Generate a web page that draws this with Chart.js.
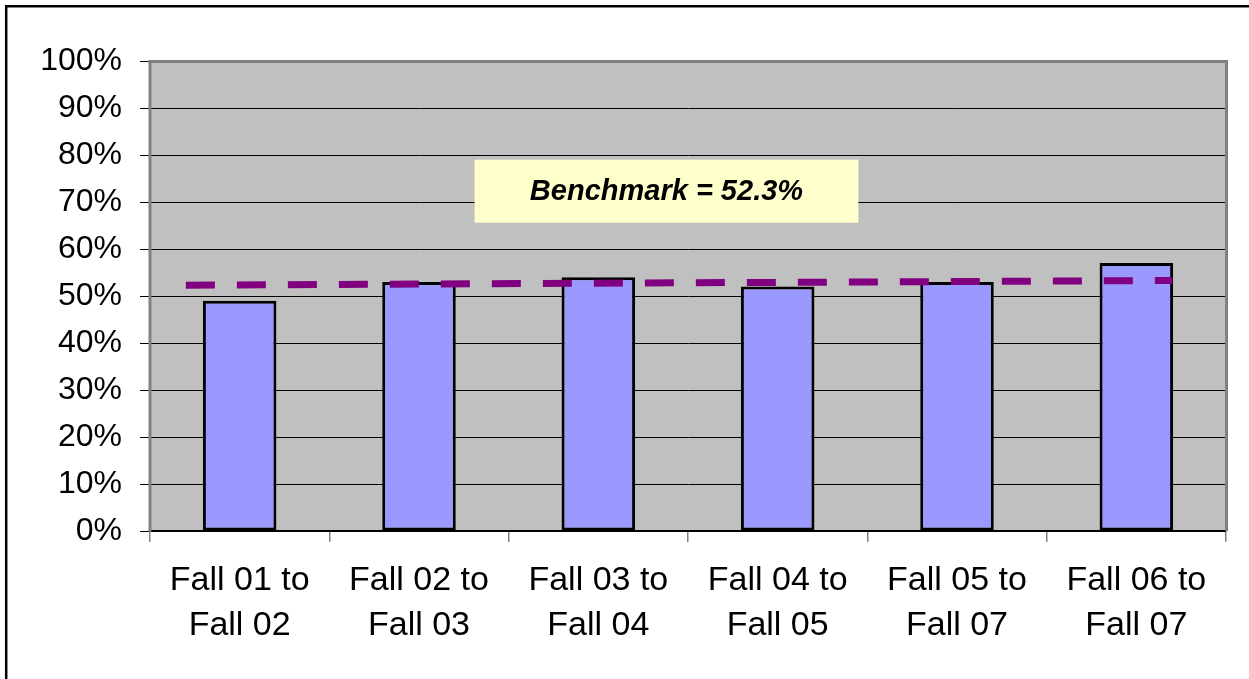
<!DOCTYPE html>
<html>
<head>
<meta charset="utf-8">
<style>
  html, body { margin: 0; padding: 0; background: #fff; }
  #wrap { position: relative; width: 1249px; height: 679px; }
</style>
<script src="https://cdn.jsdelivr.net/npm/chart.js@4.4.1/dist/chart.umd.min.js"></script>
</head>
<body>
<div id="wrap"><canvas id="c" width="1249" height="679"></canvas></div>
<script>
// ---- data ----
const categories = [
  ["Fall 01 to", "Fall 02"],
  ["Fall 02 to", "Fall 03"],
  ["Fall 03 to", "Fall 04"],
  ["Fall 04 to", "Fall 05"],
  ["Fall 05 to", "Fall 07"],
  ["Fall 06 to", "Fall 07"]
];
const retentionRates = [49, 53, 54, 52, 53, 57];
const benchmarkX = [0.2, 5.7];        // position along categories (0..6)
const benchmarkY = [52.3, 53.3];
const benchmarkLabel = "Benchmark = 52.3%";
const yTicks = [0, 10, 20, 30, 40, 50, 60, 70, 80, 90, 100];

const FONT = "'Liberation Sans', Arial, sans-serif";

const framePlugin = {
  id: 'framePlugin',
  beforeDraw(chart) {
    const { ctx, chartArea: a } = chart;
    ctx.save();
    ctx.fillStyle = '#C0C0C0';
    ctx.fillRect(a.left, a.top, a.right - a.left, a.bottom - a.top);
    // outer frame
    ctx.strokeStyle = '#000';
    ctx.lineWidth = 2.5;
    ctx.beginPath();
    ctx.moveTo(6.2, 700);
    ctx.lineTo(6.2, 6.2);
    ctx.lineTo(1300, 6.2);
    ctx.stroke();
    ctx.restore();
  },
  afterDatasetsDraw(chart) {
    const { ctx, chartArea: a } = chart;
    ctx.save();
    ctx.strokeStyle = '#808080';
    ctx.lineWidth = 3;
    ctx.beginPath();
    ctx.moveTo(a.left, a.bottom);
    ctx.lineTo(a.left, a.top + 0.5);
    ctx.lineTo(a.right + 0.5, a.top + 0.5);
    ctx.lineTo(a.right + 0.5, a.bottom);
    ctx.stroke();
    ctx.restore();
  },
  beforeDatasetsDraw(chart) {
    const { ctx, scales } = chart;
    const x2 = scales.x2, y = scales.y;
    ctx.save();
    const bx0 = x2.getPixelForValue(1.81), bx1 = x2.getPixelForValue(3.95);
    const by0 = y.getPixelForValue(79), by1 = y.getPixelForValue(65.6);
    ctx.fillStyle = '#FFFFCC';
    ctx.fillRect(bx0, by0, bx1 - bx0, by1 - by0);
    ctx.fillStyle = '#000';
    ctx.font = "italic bold 29px " + FONT;
    ctx.textAlign = 'center';
    ctx.textBaseline = 'middle';
    ctx.fillText(benchmarkLabel, (bx0 + bx1) / 2, (by0 + by1) / 2 + 1);
    ctx.restore();
  }
};

new Chart(document.getElementById('c'), {
  data: {
    labels: categories,
    datasets: [
      {
        type: 'bar',
        data: retentionRates,
        backgroundColor: '#9999FF',
        borderColor: '#000',
        borderWidth: 3,
        borderSkipped: false,
        grouped: false,
        categoryPercentage: 1,
        barPercentage: 0.41,
        xAxisID: 'x',
        order: 2
      },
      {
        type: 'line',
        data: benchmarkX.map((v, i) => ({ x: v, y: benchmarkY[i] })),
        borderColor: '#800080',
        borderWidth: 7,
        borderDash: [29, 22],
        borderCapStyle: 'butt',
        pointRadius: 0,
        fill: false,
        xAxisID: 'x2',
        order: 1
      }
    ]
  },
  plugins: [framePlugin],
  options: {
    responsive: false,
    animation: false,
    devicePixelRatio: 1,
    layout: { padding: { top: 61, right: 23, left: 0, bottom: 0 } },
    plugins: { legend: { display: false }, tooltip: { enabled: false } },
    scales: {
      x: {
        type: 'category',
        offset: true,
        grid: {
          offset: true,
          drawOnChartArea: false,
          drawTicks: true,
          tickLength: 11,
          color: '#808080',
          lineWidth: 1.5
        },
        border: { display: true, color: '#000', width: 1.5 },
        ticks: {
          color: '#000',
          font: { family: FONT, size: 34, lineHeight: 1.32 },
          padding: 16,
          maxRotation: 0,
          autoSkip: false
        },
        afterFit(s) { s.height = 148; }
      },
      x2: {
        type: 'linear',
        min: 0, max: 6,
        display: false
      },
      y: {
        type: 'linear',
        min: 0, max: 100,
        afterBuildTicks(s) { s.ticks = yTicks.map(v => ({ value: v })); },
        grid: {
          color: '#000',
          lineWidth: 1,
          tickLength: 10,
          drawTicks: true
        },
        border: { display: true, color: '#808080', width: 2 },
        ticks: {
          color: '#000',
          font: { family: FONT, size: 32 },
          padding: 18,
          callback: v => v + '%'
        },
        afterFit(s) { s.width = 150; }
      }
    }
  }
});
</script>
</body>
</html>
